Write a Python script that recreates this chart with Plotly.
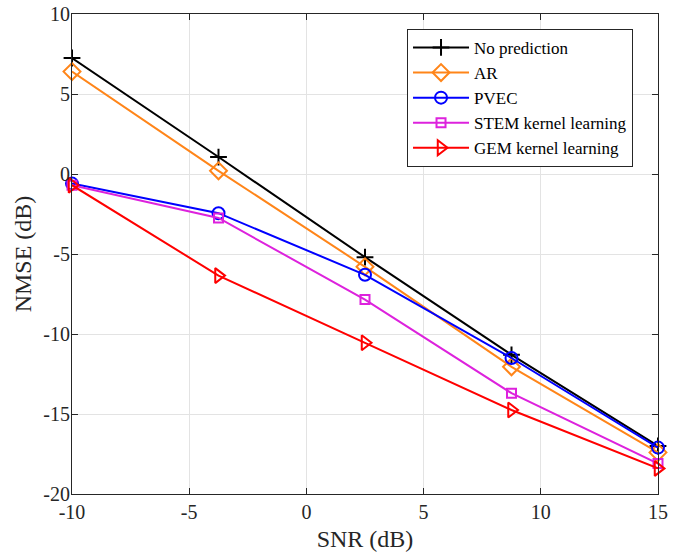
import plotly.graph_objects as go

snr = [-10, -3.75, 2.5, 8.75, 15]
no_pred = [7.25, 1.06, -5.2, -11.3, -17.0]
ar = [6.4, 0.2, -5.8, -12.05, -17.4]
pvec = [-0.6, -2.45, -6.3, -11.5, -17.1]
stem = [-0.7, -2.75, -7.85, -13.7, -18.1]
gem = [-0.7, -6.35, -10.55, -14.75, -18.4]

names = ["No prediction", "AR", "PVEC", "STEM kernel learning", "GEM kernel learning"]
series = [no_pred, ar, pvec, stem, gem]
colors = ["#000000", "#FF8519", "#0000FF", "#DD22DD", "#FF0000"]
symbols = ["cross-thin", "diamond-open", "circle-open", "square-open", "triangle-right-open"]
sizes = [12, 13, 12, 9, 13]

xticks = [-10, -5, 0, 5, 10, 15]
yticks = [-20, -15, -10, -5, 0, 5, 10]

FONT = "Liberation Serif"

fig = go.Figure()
for n, s, c, sym, sz in zip(names, series, colors, symbols, sizes):
    fig.add_trace(go.Scatter(
        x=snr, y=s, name=n, mode="lines+markers", cliponaxis=False,
        line=dict(color=c, width=2),
        marker=dict(symbol=sym, size=sz, color=c, line=dict(color=c, width=2)),
    ))

axis_common = dict(
    showgrid=True, gridcolor="#E3E3E3", gridwidth=1,
    showline=True, linecolor="#262626", linewidth=1, mirror="ticks",
    ticks="inside", ticklen=6, tickcolor="#262626",
    zeroline=False, automargin=False,
    tickfont=dict(family=FONT, size=20, color="#262626"),
)

fig.update_xaxes(
    range=[-10, 15], tickvals=xticks, ticktext=[str(v) for v in xticks],
    title=dict(text="SNR (dB)", font=dict(family=FONT, size=24, color="#262626"), standoff=10),
    **axis_common,
)
fig.update_yaxes(
    range=[-20, 10], tickvals=yticks, ticktext=[str(v) for v in yticks],
    ticklabelstandoff=-3,
    title=dict(text="NMSE (dB)", font=dict(family=FONT, size=24, color="#262626"), standoff=4),
    **axis_common,
)

fig.update_layout(
    width=677, height=552,
    margin=dict(l=72, r=19, t=14, b=58, autoexpand=False),
    paper_bgcolor="white", plot_bgcolor="white",
    font=dict(family=FONT, color="#000000"),
    legend=dict(
        x=0.5717, y=0.969, xanchor="left", yanchor="top",
        bgcolor="white", bordercolor="#262626", borderwidth=1,
        font=dict(family=FONT, size=17, color="#000000"),
        tracegroupgap=0, itemwidth=56,
    ),
)

fig.write_html(
    "out.html",
    config={"displayModeBar": False},
    post_script="document.body.style.margin='0px';document.body.style.overflow='hidden';",
)
